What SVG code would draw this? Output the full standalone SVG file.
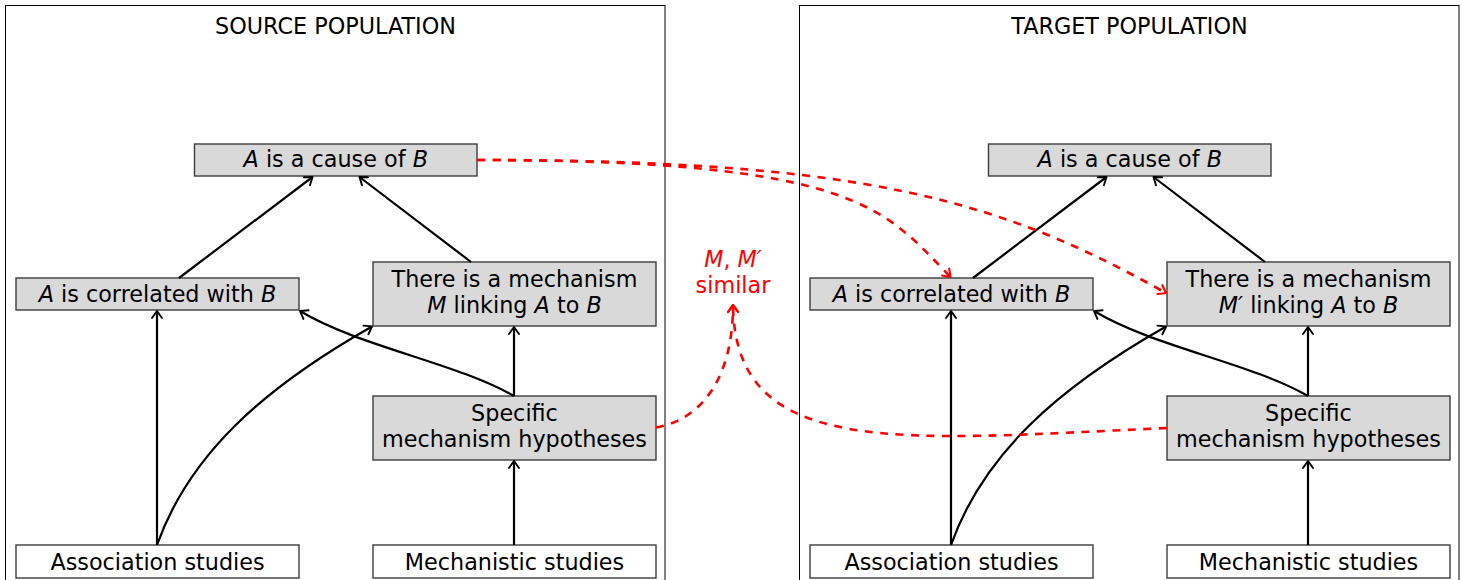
<svg xmlns="http://www.w3.org/2000/svg" width="1462" height="580" viewBox="0 0 1462 580">
<defs>
<style>
text{font-family:"DejaVu Sans","Liberation Sans",sans-serif;font-size:22.3px;fill:#000;text-anchor:middle}
.it{font-style:italic}
.panel{fill:none;stroke:#000;stroke-width:1}
.box{fill:#d9d9d9;stroke:#3c3c3c;stroke-width:1.4}
.wbox{fill:#fff;stroke:#3c3c3c;stroke-width:1.4}
.c{fill:none;stroke:#000;stroke-width:2.2;marker-end:url(#ah)}
.r{fill:none;stroke:#f00;stroke-width:2.6;stroke-dasharray:8 7.5;marker-end:url(#ahr)}
.red{fill:#f00}
</style>
<marker id="ah" markerUnits="userSpaceOnUse" markerWidth="14" markerHeight="14" refX="0" refY="0" viewBox="-8 -7 10 14" orient="auto" overflow="visible">
<path d="M-7,-5 Q-2,-1.5 0,0 Q-2,1.5 -7,5" fill="none" stroke="#000" stroke-width="1.9" stroke-linecap="round" stroke-linejoin="round"/>
</marker>
<marker id="ahr" markerUnits="userSpaceOnUse" markerWidth="14" markerHeight="14" refX="0" refY="0" viewBox="-8 -7 10 14" orient="auto" overflow="visible">
<path d="M-7,-5 Q-2,-1.5 0,0 Q-2,1.5 -7,5" fill="none" stroke="#f00" stroke-width="2.1" stroke-linecap="round" stroke-linejoin="round"/>
</marker>
</defs>
<rect width="1462" height="580" fill="#fff"/>

<g id="panel-source">
<rect class="panel" x="5.5" y="5.5" width="659.5" height="590"/>
<text x="335.5" y="34">SOURCE POPULATION</text>
</g>
<g id="panel-target">
<rect class="panel" x="799.5" y="5.5" width="659.5" height="590"/>
<text x="1129.5" y="34">TARGET POPULATION</text>
</g>

<g id="src-cause"><rect class="box" x="194.5" y="144" width="282.5" height="32"/><text x="335.75" y="167"><tspan class="it">A</tspan> is a cause of <tspan class="it">B</tspan></text></g>
<g id="src-correlated"><rect class="box" x="16" y="278" width="283" height="32"/><text x="157.5" y="302"><tspan class="it">A</tspan> is correlated with <tspan class="it">B</tspan></text></g>
<g id="src-mechanism"><rect class="box" x="373" y="262" width="283" height="64"/><text x="514.5" y="287">There is a mechanism</text><text x="514.5" y="313"><tspan class="it">M</tspan> linking <tspan class="it">A</tspan> to <tspan class="it">B</tspan></text></g>
<g id="src-hypotheses"><rect class="box" x="373" y="396" width="283" height="64"/><text x="514.5" y="421">Specific</text><text x="514.5" y="447">mechanism hypotheses</text></g>
<g id="src-association"><rect class="wbox" x="16" y="545" width="283" height="33"/><text x="157.5" y="570">Association studies</text></g>
<g id="src-mechanistic"><rect class="wbox" x="373" y="545" width="283" height="33"/><text x="514.5" y="570">Mechanistic studies</text></g>

<g id="tgt-cause"><rect class="box" x="988.5" y="144" width="282.5" height="32"/><text x="1129.75" y="167"><tspan class="it">A</tspan> is a cause of <tspan class="it">B</tspan></text></g>
<g id="tgt-correlated"><rect class="box" x="810" y="278" width="283" height="32"/><text x="951.5" y="302"><tspan class="it">A</tspan> is correlated with <tspan class="it">B</tspan></text></g>
<g id="tgt-mechanism"><rect class="box" x="1167" y="262" width="283" height="64"/><text x="1308.5" y="287">There is a mechanism</text><text x="1308.5" y="313"><tspan class="it">M′</tspan> linking <tspan class="it">A</tspan> to <tspan class="it">B</tspan></text></g>
<g id="tgt-hypotheses"><rect class="box" x="1167" y="396" width="283" height="64"/><text x="1308.5" y="421">Specific</text><text x="1308.5" y="447">mechanism hypotheses</text></g>
<g id="tgt-association"><rect class="wbox" x="810" y="545" width="283" height="33"/><text x="951.5" y="570">Association studies</text></g>
<g id="tgt-mechanistic"><rect class="wbox" x="1167" y="545" width="283" height="33"/><text x="1308.5" y="570">Mechanistic studies</text></g>

<g id="similar-label"><text class="red" x="733" y="267"><tspan class="it">M</tspan>, <tspan class="it">M′</tspan></text><text class="red" x="733" y="293">similar</text></g>

<g id="connectors">
<path class="c" d="M179,278 L312.5,177"/>
<path class="c" d="M471,262 L359.5,177"/>
<path class="c" d="M157,545 L157,311"/>
<path class="c" d="M157,545 C189,455 262,389 372,326.5"/>
<path class="c" d="M514,396 C454,362 360,347 300,311"/>
<path class="c" d="M514,396 L514,327"/>
<path class="c" d="M514,545 L514,461"/>
<path class="c" d="M973,278 L1106.5,177"/>
<path class="c" d="M1265,262 L1153.5,177"/>
<path class="c" d="M951,545 L951,311"/>
<path class="c" d="M951,545 C983,455 1056,389 1166,326.5"/>
<path class="c" d="M1308,396 C1248,362 1154,347 1094,311"/>
<path class="c" d="M1308,396 L1308,327"/>
<path class="c" d="M1308,545 L1308,461"/>
<path class="r" d="M477,160 C860,160 885,210 950.5,277"/>
<path class="r" d="M477,160 C865,160 1000,200 1166,293"/>
<path class="r" d="M656,427.5 C700,420 733,380 733,305"/>
<path class="r" d="M1167,428 C900,440 735,460 733,305"/>
</g>
</svg>
